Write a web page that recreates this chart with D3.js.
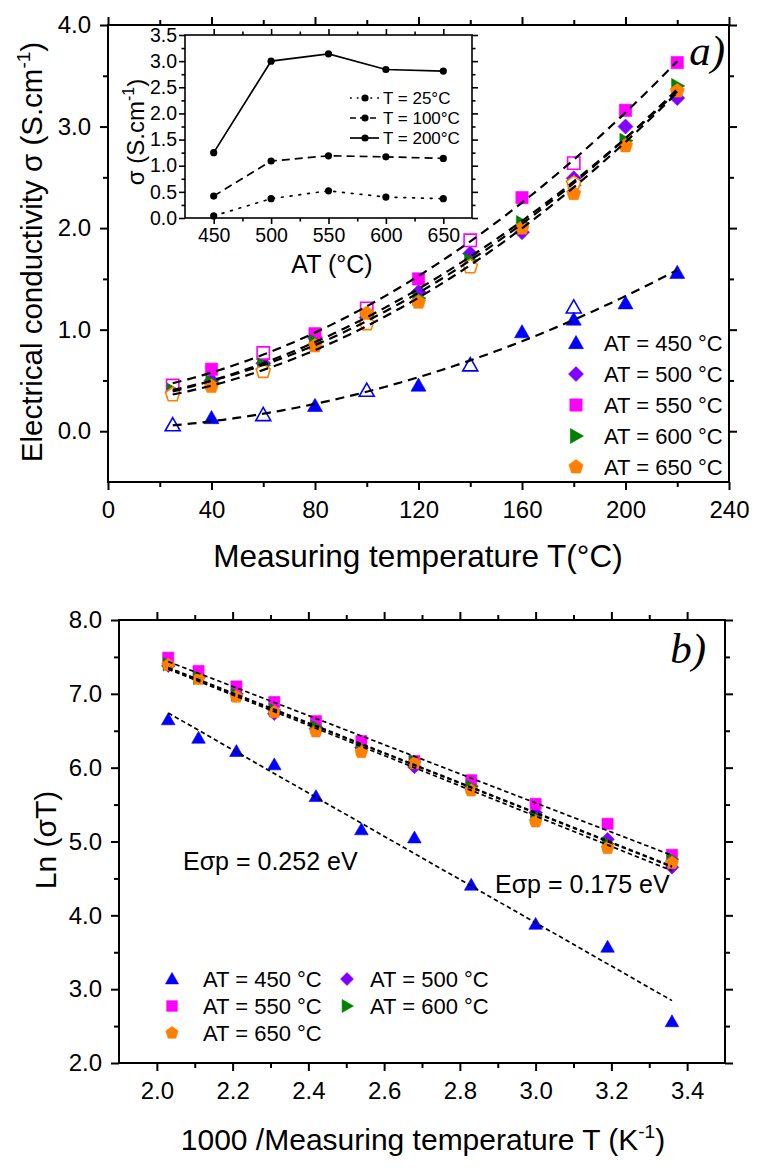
<!DOCTYPE html>
<html><head><meta charset="utf-8">
<script src="https://cdn.jsdelivr.net/npm/d3@7"></script>
<style>body{margin:0;background:#fff} svg{display:block} text{font-family:"Liberation Sans",Arial,sans-serif;fill:#000}</style>
</head><body><svg id="c" width="768" height="1170"></svg>
<script>
// ================= DATA =================
// Panel a) : conductivity vs measuring temperature
const measT = [25, 40, 60, 80, 100, 120, 140, 160, 180, 200, 220];
const openT = [25, 60, 100, 140, 180];            // points drawn as open markers (AT 450/550/650)
const sigma450 = [0.06, 0.13, 0.16, 0.25, 0.40, 0.45, 0.65, 0.975, 1.22, 1.26, 1.56];
const sigma500 = [0.38, 0.50, 0.67, 0.92, 1.12, 1.37, 1.75, 1.96, 2.49, 3.00, 3.28];
const sigma550 = [0.45, 0.61, 0.77, 0.96, 1.21, 1.50, 1.88, 2.30, 2.64, 3.16, 3.63];
const sigma600 = [0.40, 0.48, 0.65, 0.88, 1.14, 1.31, 1.68, 2.05, 2.42, 2.86, 3.40];
const sigma650 = [0.36, 0.44, 0.59, 0.84, 1.06, 1.27, 1.62, 2.00, 2.44, 2.81, 3.35];
const extraAT = [450, 650, 650];                 // extra filled points (second run)
const extraT = [180, 100, 180];
const extraSigma = [1.10, 1.16, 2.34];
const xTicksA = [0, 40, 80, 120, 160, 200, 240];
const yTicksA = [0, 1, 2, 3, 4];

// Inset : conductivity vs annealing temperature
const insetAT = [450, 500, 550, 600, 650];
const inset25 = [0.04, 0.37, 0.52, 0.40, 0.37];
const inset100 = [0.42, 1.09, 1.19, 1.17, 1.14];
const inset200 = [1.25, 3.00, 3.14, 2.84, 2.81];
const xTicksIn = [450, 500, 550, 600, 650];
const yTicksIn = [0, 0.5, 1, 1.5, 2, 2.5, 3, 3.5];

// Panel b) : Arrhenius plot
const invT = [2.03, 2.11, 2.21, 2.31, 2.42, 2.54, 2.68, 2.83, 3.00, 3.19, 3.36];
const ln450 = [6.65, 6.40, 6.22, 6.04, 5.61, 5.16, 5.05, 4.41, 3.88, 3.57, 2.56];
const ln500 = [7.38, 7.22, 7.00, 6.73, 6.53, 6.27, 6.01, 5.75, 5.39, 5.03, 4.65];
const ln550 = [7.49, 7.31, 7.10, 6.89, 6.63, 6.36, 6.09, 5.83, 5.51, 5.24, 4.82];
const ln600 = [7.40, 7.22, 6.99, 6.78, 6.55, 6.26, 6.08, 5.74, 5.33, 4.97, 4.76];
const ln650 = [7.39, 7.20, 6.96, 6.75, 6.49, 6.21, 6.06, 5.69, 5.27, 4.91, 4.71];
const xTicksB = [2.0, 2.2, 2.4, 2.6, 2.8, 3.0, 3.2, 3.4];
const yTicksB = [2, 3, 4, 5, 6, 7, 8];
const energyLabels = ["E\u03C3p = 0.252 eV", "E\u03C3p = 0.175 eV"];

const seriesAT = [450, 500, 550, 600, 650];
const seriesColor = ["#0000ff", "#8000ff", "#ff00ff", "#008000", "#ff8000"];
const seriesShape = ["tri", "diamond", "square", "right", "pent"];
const sigmaSeries = [sigma450, sigma500, sigma550, sigma600, sigma650];
const lnSeries = [ln450, ln500, ln550, ln600, ln650];
const openSeries = [true, false, true, false, true];

// ================= HELPERS =================
const svg = d3.select("#c");
const FONT = '"Liberation Sans",Arial,sans-serif';

function shapePath(shape, r) {
  let pts;
  if (shape === "tri") pts = [[0, -r], [r, 0.75 * r], [-r, 0.75 * r]];
  else if (shape === "square") { const s = r * 0.82; pts = [[-s, -s], [s, -s], [s, s], [-s, s]]; }
  else if (shape === "diamond") pts = [[0, -r], [r, 0], [0, r], [-r, 0]];
  else if (shape === "right") pts = [[-0.75 * r, -r], [r, 0], [-0.75 * r, r]];
  else pts = d3.range(5).map(i => { const a = -Math.PI / 2 + i * 2 * Math.PI / 5; return [r * Math.cos(a), r * Math.sin(a)]; });
  return "M" + pts.map(p => p[0].toFixed(2) + "," + p[1].toFixed(2)).join("L") + "Z";
}

function polyfit(xs, ys, deg) {
  const n = deg + 1;
  const A = Array.from({ length: n }, () => Array(n + 1).fill(0));
  xs.forEach((x, k) => {
    for (let i = 0; i < n; i++) {
      for (let j = 0; j < n; j++) A[i][j] += Math.pow(x, i + j);
      A[i][n] += Math.pow(x, i) * ys[k];
    }
  });
  for (let i = 0; i < n; i++) {
    let p = i;
    for (let r = i + 1; r < n; r++) if (Math.abs(A[r][i]) > Math.abs(A[p][i])) p = r;
    [A[i], A[p]] = [A[p], A[i]];
    for (let r = 0; r < n; r++) {
      if (r === i) continue;
      const f = A[r][i] / A[i][i];
      for (let c = i; c <= n; c++) A[r][c] -= f * A[i][c];
    }
  }
  return A.map((row, i) => row[n] / row[i]);
}
const polyval = (c, x) => c.reduce((s, ci, i) => s + ci * Math.pow(x, i), 0);

function frame(xs, ys, o) {
  const [x0, x1] = xs.range(), [yb, yt] = ys.range();
  const g = svg.append("g");
  function ax(fn, scale, vals, size, fmt, tr, pad) {
    const a = fn(scale).tickValues(vals).tickSize(size).tickSizeOuter(0).tickPadding(pad || 3)
      .tickFormat(fmt || (() => ""));
    const gg = g.append("g").attr("transform", tr).call(a);
    gg.select(".domain").remove();
    gg.selectAll("line").attr("stroke", "#000").attr("stroke-width", o.sw);
    gg.selectAll("text").attr("font-size", o.fs).attr("font-family", FONT).attr("fill", "#000");
    return gg;
  }
  ax(d3.axisBottom, xs, o.xMajor, o.maj, o.xFmt, `translate(0,${yb})`, o.xPad);
  ax(d3.axisBottom, xs, o.xMinor, o.min, null, `translate(0,${yb})`);
  ax(d3.axisTop, xs, o.xMajor, o.maj, null, `translate(0,${yt})`);
  ax(d3.axisTop, xs, o.xMinor, o.min, null, `translate(0,${yt})`);
  ax(d3.axisLeft, ys, o.yMajor, o.maj, o.yFmt, `translate(${x0},0)`, o.yPad);
  ax(d3.axisLeft, ys, o.yMinor, o.min, null, `translate(${x0},0)`);
  ax(d3.axisRight, ys, o.yMajor, o.maj, null, `translate(${x1},0)`);
  ax(d3.axisRight, ys, o.yMinor, o.min, null, `translate(${x1},0)`);
  g.append("rect").attr("x", x0).attr("y", yt).attr("width", x1 - x0).attr("height", yb - yt)
    .attr("fill", "none").attr("stroke", "#000").attr("stroke-width", o.sw);
  return g;
}

function marker(g, shape, color, cx, cy, r, open) {
  g.append("path").attr("d", shapePath(shape, r)).attr("transform", `translate(${cx},${cy})`)
    .attr("fill", open ? "#fff" : color).attr("stroke", color).attr("stroke-width", open ? 1.6 : 0.6);
}

// ================= PANEL a) =================
const xA = d3.scaleLinear().domain([0, 240]).range([108, 729]);
const yA = d3.scaleLinear().domain([-0.5, 4.0]).range([482, 25]);
const f1 = d3.format(".1f");
frame(xA, yA, {
  sw: 2, fs: 24, maj: 8, min: 5,
  xMajor: xTicksA, xMinor: [20, 60, 100, 140, 180, 220], xFmt: d3.format("d"), xPad: 11,
  yMajor: yTicksA, yMinor: [0.5, 1.5, 2.5, 3.5], yFmt: f1, yPad: 9
});

const gA = svg.append("g");
sigmaSeries.forEach((vals, si) => {
  vals.forEach((v, i) => {
    const isOpen = openSeries[si] && openT.includes(measT[i]);
    marker(gA, seriesShape[si], seriesColor[si], xA(measT[i]), yA(v), 7.5, isOpen);
  });
  extraAT.forEach((at, k) => {
    if (at === seriesAT[si]) marker(gA, seriesShape[si], seriesColor[si], xA(extraT[k]), yA(extraSigma[k]), 7.5, false);
  });
});
// quadratic fits
sigmaSeries.forEach(vals => {
  const c = polyfit(measT, vals, 2);
  const xsF = d3.range(0, 101).map(k => measT[0] + (measT[measT.length - 1] - measT[0]) * k / 100);
  gA.append("path").attr("d", d3.line().x(t => xA(t)).y(t => yA(polyval(c, t)))(xsF))
    .attr("fill", "none").attr("stroke", "#000").attr("stroke-width", 2.2).attr("stroke-dasharray", "9,6");
});

// legend a)
seriesAT.forEach((at, i) => {
  const cy = 343 + i * 31;
  marker(svg, seriesShape[i], seriesColor[i], 576, cy, 7.5, false);
  svg.append("text").attr("x", 604).attr("y", cy + 8).attr("font-size", 22).text(`AT = ${at} \u00B0C`);
});

// axis titles a)
svg.append("text").attr("transform", "translate(42,252) rotate(-90)").attr("text-anchor", "middle")
  .attr("font-size", 29.5)
  .call(t => {
    t.append("tspan").text("Electrical conductivity \u03C3 (S.cm");
    t.append("tspan").attr("font-size", 19).attr("dy", -12).text("-1");
    t.append("tspan").attr("dy", 12).text(")");
  });
svg.append("text").attr("x", 418).attr("y", 567).attr("text-anchor", "middle").attr("font-size", 31.5)
  .text("Measuring temperature T(\u00B0C)");
svg.append("text").attr("x", 725).attr("y", 65).attr("text-anchor", "end").attr("font-size", 43)
  .style("font-family", '"Liberation Serif",serif').attr("font-style", "italic")
  .text("a)");

// ================= INSET =================
const xI = d3.scaleLinear().domain([425, 675]).range([185, 472]);
const yI = d3.scaleLinear().domain([0, 3.5]).range([218, 35]);
svg.append("rect").attr("x", 185).attr("y", 35).attr("width", 287).attr("height", 183).attr("fill", "#fff");
frame(xI, yI, {
  sw: 1.6, fs: 19.5, maj: 6, min: 3.5,
  xMajor: xTicksIn, xMinor: [475, 525, 575, 625], xFmt: d3.format("d"), xPad: 4,
  yMajor: yTicksIn, yMinor: d3.range(0.25, 3.5, 0.5), yFmt: f1, yPad: 2
});
const insetSeries = [inset25, inset100, inset200];
const insetDash = ["1.8,7", "8,5", null];
const insetLabels = ["T = 25\u00B0C", "T = 100\u00B0C", "T = 200\u00B0C"];
insetSeries.forEach((vals, k) => {
  const p = svg.append("path").attr("d", d3.line().x((d, i) => xI(insetAT[i])).y(d => yI(d))(vals))
    .attr("fill", "none").attr("stroke", "#000").attr("stroke-width", 1.7);
  if (insetDash[k]) p.attr("stroke-dasharray", insetDash[k]);
  if (k === 0) p.attr("stroke-linecap", "round");
  vals.forEach((v, i) => svg.append("circle").attr("cx", xI(insetAT[i])).attr("cy", yI(v)).attr("r", 3.6).attr("fill", "#000"));
  // legend
  const cy = 98 + k * 20;
  const lp = svg.append("line").attr("x1", 350).attr("x2", 379).attr("y1", cy).attr("y2", cy)
    .attr("stroke", "#000").attr("stroke-width", 1.7);
  if (insetDash[k]) lp.attr("stroke-dasharray", k === 0 ? "1.8,5" : "6,4");
  svg.append("circle").attr("cx", 365).attr("cy", cy).attr("r", 3.6).attr("fill", "#000");
  svg.append("text").attr("x", 383).attr("y", cy + 6).attr("font-size", 17).text(insetLabels[k]);
});
svg.append("text").attr("transform", "translate(144,132) rotate(-90)").attr("text-anchor", "middle")
  .attr("font-size", 24)
  .call(t => {
    t.append("tspan").text("\u03C3 (S.cm");
    t.append("tspan").attr("font-size", 16).attr("dy", -10).text("-1");
    t.append("tspan").attr("dy", 10).text(")");
  });
svg.append("text").attr("x", 332).attr("y", 273).attr("text-anchor", "middle").attr("font-size", 25).text("AT (\u00B0C)");

// ================= PANEL b) =================
const xB = d3.scaleLinear().domain([1.9, 3.5]).range([119, 725]);
const yB = d3.scaleLinear().domain([2, 8]).range([1063, 620]);
frame(xB, yB, {
  sw: 2, fs: 24, maj: 8, min: 5,
  xMajor: xTicksB, xMinor: [2.1, 2.3, 2.5, 2.7, 2.9, 3.1, 3.3], xFmt: f1, xPad: 11,
  yMajor: yTicksB, yMinor: [2.5, 3.5, 4.5, 5.5, 6.5, 7.5], yFmt: f1, yPad: 9
});
const gB = svg.append("g");
lnSeries.forEach((vals, si) => {
  vals.forEach((v, i) => marker(gB, seriesShape[si], seriesColor[si], xB(invT[i]), yB(v), 6.8, false));
});
lnSeries.forEach(vals => {
  const c = polyfit(invT, vals, 1);
  const xe = d3.extent(invT);
  gB.append("path").attr("d", d3.line().x(d => xB(d)).y(d => yB(polyval(c, d)))(xe))
    .attr("fill", "none").attr("stroke", "#000").attr("stroke-width", 1.7).attr("stroke-dasharray", "4.5,3");
});
svg.append("text").attr("x", 183).attr("y", 870).attr("font-size", 25).text(energyLabels[0]);
svg.append("text").attr("x", 495).attr("y", 893).attr("font-size", 25).text(energyLabels[1]);
svg.append("text").attr("x", 706).attr("y", 663).attr("text-anchor", "end").attr("font-size", 43)
  .style("font-family", '"Liberation Serif",serif').attr("font-style", "italic").text("b)");

// legend b)
seriesAT.forEach((at, i) => {
  const col = i % 2, row = Math.floor(i / 2);
  const mx = col === 0 ? 172 : 347, tx = col === 0 ? 203 : 370;
  const cy = 979 + row * 27;
  marker(svg, seriesShape[i], seriesColor[i], mx, cy, 6.5, false);
  svg.append("text").attr("x", tx).attr("y", cy + 8).attr("font-size", 22).text(`AT = ${at} \u00B0C`);
});

svg.append("text").attr("transform", "translate(56,840) rotate(-90)").attr("text-anchor", "middle")
  .attr("font-size", 30).text("Ln (\u03C3T)");
svg.append("text").attr("x", 423).attr("y", 1150).attr("text-anchor", "middle").attr("font-size", 30)
  .call(t => {
    t.append("tspan").text("1000 /Measuring temperature T (K");
    t.append("tspan").attr("font-size", 19).attr("dy", -12).text("-1");
    t.append("tspan").attr("dy", 12).text(")");
  });
</script></body></html>
